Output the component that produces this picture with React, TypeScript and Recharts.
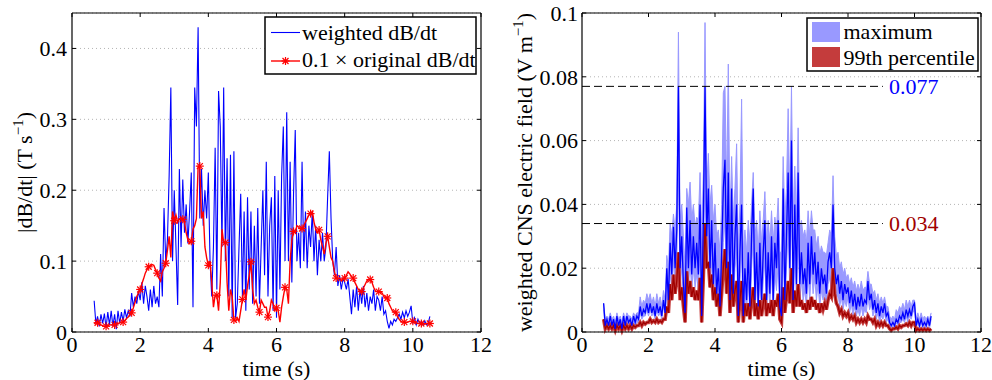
import React from 'react';
import { ComposedChart, Line, Area, XAxis, YAxis, CartesianGrid, ReferenceLine } from 'recharts';

const FONT = '"Liberation Serif", "Times New Roman", serif';
const FS = 22;

// sampling grid of the recordings (s)
const T_START = 0.65;
const T_STEP = 0.05;

// left panel: weighted dB/dt (T/s)
const weightedDBdt = [
  0.044, 0.012, 0.022, 0.008, 0.025, 0.012, 0.026,
  0.006, 0.028, 0.01, 0.03, 0.008, 0.025, 0.004, 0.03, 0.012, 0.028, 0.015, 0.032, 0.02, 0.03, 0.022, 0.055, 0.035, 0.05, 0.04, 0.058,
  0.045, 0.07, 0.04, 0.065, 0.05, 0.03, 0.06, 0.035, 0.065, 0.04, 0.05, 0.035, 0.11, 0.05, 0.175, 0.1, 0.13, 0.22, 0.345, 0.1,
  0.2, 0.12, 0.038, 0.23, 0.12, 0.215, 0.14, 0.18, 0.125, 0.17, 0.225, 0.035, 0.345, 0.29, 0.43, 0.16, 0.23, 0.15, 0.2, 0.16,
  0.225, 0.1, 0.05, 0.12, 0.26, 0.06, 0.34, 0.29, 0.12, 0.345, 0.1, 0.245, 0.05, 0.25, 0.02, 0.255, 0.02, 0.04, 0.12, 0.195,
  0.05, 0.17, 0.03, 0.19, 0.06, 0.17, 0.04, 0.15, 0.05, 0.175, 0.04, 0.12, 0.2, 0.08, 0.24, 0.05, 0.15, 0.19, 0.03, 0.22,
  0.02, 0.2, 0.06, 0.22, 0.29, 0.1, 0.31, 0.1, 0.24, 0.07, 0.195, 0.285, 0.1, 0.14, 0.09, 0.24, 0.1, 0.17, 0.09, 0.15,
  0.12, 0.17, 0.1, 0.15, 0.08, 0.13, 0.1, 0.14, 0.1, 0.12, 0.19, 0.255, 0.16, 0.1, 0.08, 0.12, 0.065, 0.08, 0.06, 0.075,
  0.07, 0.06, 0.075, 0.05, 0.025, 0.06, 0.035, 0.065, 0.03, 0.06, 0.04, 0.065, 0.035, 0.055, 0.03, 0.05, 0.04, 0.06, 0.03, 0.05,
  0.045, 0.03, 0.05, 0.025, 0.03, 0.015, 0.005, 0.015, 0.01, 0.018, 0.015, 0.02, 0.025, 0.018, 0.028, 0.02, 0.03, 0.022, 0.028, 0.037,
  0.012, 0.02, 0.01, 0.018, 0.012, 0.015, 0.01, 0.016, 0.01, 0.012, 0.022,
];

// left panel: 0.1 x original dB/dt (T/s)
const originalDBdt = [
  0.012, 0.013, 0.013, 0.012, 0.01, 0.009, 0.008,
  0.008, 0.009, 0.01, 0.01, 0.01, 0.01, 0.011, 0.012, 0.013, 0.014, 0.014, 0.016, 0.019, 0.021, 0.024, 0.027, 0.034, 0.042, 0.05, 0.055,
  0.06, 0.068, 0.075, 0.083, 0.088, 0.092, 0.093, 0.095, 0.094, 0.088, 0.083, 0.076, 0.072, 0.085, 0.09, 0.097, 0.115, 0.135, 0.105, 0.17,
  0.157, 0.165, 0.155, 0.16, 0.16, 0.159, 0.155, 0.14, 0.13, 0.125, 0.128, 0.145, 0.15, 0.16, 0.234, 0.234, 0.16, 0.17, 0.12, 0.105,
  0.094, 0.1, 0.07, 0.035, 0.052, 0.052, 0.03, 0.07, 0.145, 0.126, 0.126, 0.07, 0.03, 0.06, 0.05, 0.017, 0.015, 0.02, 0.015, 0.03,
  0.046, 0.06, 0.045, 0.065, 0.08, 0.099, 0.06, 0.04, 0.045, 0.035, 0.028, 0.045, 0.04, 0.035, 0.035, 0.021, 0.03, 0.045, 0.04, 0.03,
  0.034, 0.03, 0.014, 0.035, 0.05, 0.063, 0.06, 0.04, 0.1, 0.13, 0.142, 0.14, 0.15, 0.148, 0.145, 0.146, 0.15, 0.155, 0.16, 0.165,
  0.167, 0.17, 0.155, 0.145, 0.14, 0.144, 0.13, 0.12, 0.11, 0.125, 0.135, 0.12, 0.105, 0.1, 0.085, 0.076, 0.075, 0.076, 0.072, 0.076,
  0.076, 0.08, 0.085, 0.082, 0.078, 0.076, 0.07, 0.065, 0.06, 0.057, 0.057, 0.062, 0.067, 0.072, 0.074, 0.074, 0.07, 0.063, 0.058, 0.057,
  0.057, 0.056, 0.055, 0.05, 0.048, 0.048, 0.04, 0.035, 0.03, 0.028, 0.028, 0.022, 0.018, 0.015, 0.014, 0.014, 0.013, 0.014, 0.015, 0.015,
  0.015, 0.014, 0.013, 0.012, 0.012, 0.012, 0.012, 0.011, 0.012, 0.012, 0.012,
];

// right panel: maximum field, central line (V/m)
const eMax = [
  0.009, 0.002, 0.004, 0.002, 0.005, 0.002, 0.004,
  0.001, 0.005, 0.002, 0.004, 0.001, 0.005, 0.002, 0.005, 0.003, 0.004, 0.002, 0.005, 0.003, 0.005, 0.004, 0.008, 0.005, 0.007, 0.006, 0.009,
  0.006, 0.009, 0.006, 0.008, 0.005, 0.009, 0.006, 0.008, 0.005, 0.01, 0.006, 0.02, 0.01, 0.028, 0.018, 0.033, 0.02, 0.032, 0.077, 0.02,
  0.03, 0.015, 0.006, 0.039, 0.02, 0.035, 0.018, 0.03, 0.02, 0.028, 0.018, 0.04, 0.005, 0.035, 0.077, 0.03, 0.045, 0.02, 0.035, 0.015,
  0.028, 0.012, 0.02, 0.008, 0.025, 0.045, 0.054, 0.02, 0.05, 0.01, 0.045, 0.012, 0.03, 0.04, 0.005, 0.025, 0.04, 0.005, 0.02, 0.01,
  0.025, 0.008, 0.03, 0.045, 0.01, 0.025, 0.008, 0.028, 0.01, 0.025, 0.035, 0.01, 0.025, 0.012, 0.03, 0.01, 0.028, 0.02, 0.035, 0.008,
  0.005, 0.045, 0.01, 0.03, 0.05, 0.02, 0.06, 0.01, 0.04, 0.015, 0.05, 0.015, 0.025, 0.015, 0.02, 0.012, 0.028, 0.015, 0.03, 0.018,
  0.025, 0.015, 0.022, 0.012, 0.02, 0.015, 0.018, 0.012, 0.022, 0.025, 0.02, 0.04, 0.02, 0.015, 0.018, 0.012, 0.016, 0.01, 0.015, 0.012,
  0.014, 0.009, 0.013, 0.008, 0.012, 0.007, 0.011, 0.008, 0.012, 0.008, 0.01, 0.009, 0.016, 0.01, 0.012, 0.007, 0.01, 0.006, 0.009, 0.005,
  0.008, 0.006, 0.009, 0.005, 0.006, 0.003, 0.002, 0.003, 0.002, 0.004, 0.003, 0.005, 0.004, 0.006, 0.004, 0.007, 0.005, 0.007, 0.005, 0.008,
  0.009, 0.002, 0.004, 0.002, 0.004, 0.002, 0.003, 0.002, 0.004, 0.002, 0.005,
];

// right panel: maximum field, upper edge of shaded band
const eMaxHigh = [
  0.009, 0.004, 0.005, 0.004, 0.006, 0.004, 0.005,
  0.003, 0.006, 0.004, 0.005, 0.003, 0.006, 0.004, 0.006, 0.005, 0.005, 0.004, 0.006, 0.005, 0.006, 0.006, 0.011, 0.008, 0.01, 0.009, 0.012,
  0.01, 0.012, 0.009, 0.011, 0.008, 0.012, 0.009, 0.011, 0.008, 0.013, 0.01, 0.024, 0.02, 0.034, 0.03, 0.037, 0.032, 0.04, 0.094, 0.035,
  0.04, 0.03, 0.02, 0.045, 0.04, 0.047, 0.035, 0.04, 0.033, 0.036, 0.035, 0.05, 0.03, 0.05, 0.097, 0.045, 0.056, 0.04, 0.046, 0.035,
  0.04, 0.03, 0.032, 0.025, 0.04, 0.075, 0.077, 0.045, 0.084, 0.035, 0.055, 0.035, 0.045, 0.059, 0.025, 0.04, 0.073, 0.025, 0.032, 0.025,
  0.035, 0.028, 0.04, 0.05, 0.03, 0.035, 0.025, 0.038, 0.028, 0.035, 0.044, 0.028, 0.035, 0.028, 0.038, 0.028, 0.036, 0.032, 0.042, 0.025,
  0.025, 0.055, 0.035, 0.045, 0.07, 0.04, 0.077, 0.035, 0.052, 0.035, 0.064, 0.032, 0.035, 0.03, 0.032, 0.028, 0.038, 0.03, 0.038, 0.032,
  0.032, 0.027, 0.03, 0.024, 0.027, 0.025, 0.025, 0.024, 0.028, 0.032, 0.03, 0.049, 0.03, 0.024, 0.025, 0.02, 0.022, 0.018, 0.02, 0.017,
  0.018, 0.015, 0.017, 0.014, 0.016, 0.013, 0.015, 0.013, 0.016, 0.013, 0.014, 0.014, 0.019, 0.015, 0.015, 0.012, 0.013, 0.01, 0.012, 0.009,
  0.011, 0.009, 0.011, 0.008, 0.008, 0.005, 0.004, 0.005, 0.004, 0.007, 0.006, 0.008, 0.007, 0.009, 0.007, 0.01, 0.008, 0.01, 0.008, 0.01,
  0.01, 0.004, 0.006, 0.004, 0.006, 0.004, 0.005, 0.004, 0.005, 0.004, 0.006,
];

// right panel: maximum field, lower edge of shaded band
const eMaxLow = [
  0.007, 0.001, 0.003, 0.001, 0.003, 0.001, 0.003,
  0.0005, 0.003, 0.001, 0.003, 0.0005, 0.003, 0.001, 0.003, 0.002, 0.003, 0.001, 0.003, 0.002, 0.003, 0.003, 0.006, 0.004, 0.005, 0.005, 0.007,
  0.005, 0.007, 0.005, 0.006, 0.004, 0.007, 0.005, 0.006, 0.004, 0.008, 0.005, 0.012, 0.008, 0.018, 0.014, 0.022, 0.015, 0.022, 0.05, 0.015,
  0.02, 0.01, 0.004, 0.025, 0.014, 0.022, 0.013, 0.02, 0.014, 0.018, 0.013, 0.025, 0.004, 0.022, 0.05, 0.02, 0.03, 0.014, 0.022, 0.01,
  0.018, 0.008, 0.013, 0.005, 0.016, 0.028, 0.035, 0.013, 0.032, 0.006, 0.028, 0.008, 0.02, 0.025, 0.003, 0.016, 0.025, 0.003, 0.013, 0.006,
  0.016, 0.005, 0.02, 0.03, 0.006, 0.016, 0.005, 0.018, 0.006, 0.016, 0.022, 0.006, 0.016, 0.008, 0.02, 0.006, 0.018, 0.013, 0.022, 0.005,
  0.003, 0.03, 0.006, 0.02, 0.032, 0.013, 0.04, 0.006, 0.026, 0.01, 0.032, 0.01, 0.016, 0.01, 0.013, 0.008, 0.018, 0.01, 0.02, 0.012,
  0.017, 0.01, 0.015, 0.008, 0.013, 0.01, 0.012, 0.008, 0.015, 0.017, 0.013, 0.028, 0.013, 0.01, 0.012, 0.008, 0.011, 0.007, 0.01, 0.008,
  0.011, 0.006, 0.009, 0.005, 0.008, 0.005, 0.007, 0.005, 0.008, 0.005, 0.007, 0.006, 0.011, 0.007, 0.009, 0.005, 0.007, 0.004, 0.006, 0.003,
  0.005, 0.004, 0.006, 0.003, 0.004, 0.002, 0.001, 0.002, 0.001, 0.003, 0.002, 0.003, 0.003, 0.004, 0.003, 0.005, 0.003, 0.005, 0.004, 0.006,
  0.007, 0.001, 0.003, 0.001, 0.003, 0.001, 0.002, 0.001, 0.003, 0.001, 0.004,
];

// right panel: 99th percentile field (V/m)
const e99 = [
  0.004, 0.001, 0.002, 0.001, 0.002, 0.001, 0.002,
  0.0005, 0.002, 0.001, 0.002, 0.0005, 0.002, 0.001, 0.002, 0.001, 0.002, 0.001, 0.002, 0.0015, 0.002, 0.002, 0.003, 0.002, 0.003, 0.0025, 0.003,
  0.003, 0.004, 0.003, 0.0035, 0.003, 0.004, 0.003, 0.0035, 0.003, 0.004, 0.004, 0.008, 0.006, 0.015, 0.01, 0.018, 0.012, 0.016, 0.025, 0.01,
  0.014, 0.008, 0.003, 0.019, 0.012, 0.016, 0.011, 0.014, 0.01, 0.013, 0.01, 0.017, 0.003, 0.017, 0.034, 0.02, 0.022, 0.014, 0.018, 0.01,
  0.014, 0.008, 0.012, 0.005, 0.012, 0.02, 0.026, 0.012, 0.022, 0.006, 0.018, 0.008, 0.013, 0.016, 0.003, 0.01, 0.016, 0.003, 0.009, 0.005,
  0.009, 0.004, 0.01, 0.014, 0.005, 0.009, 0.004, 0.01, 0.005, 0.009, 0.012, 0.005, 0.009, 0.006, 0.01, 0.005, 0.01, 0.008, 0.012, 0.004,
  0.003, 0.014, 0.006, 0.011, 0.016, 0.009, 0.02, 0.006, 0.013, 0.008, 0.015, 0.008, 0.01, 0.007, 0.009, 0.006, 0.01, 0.007, 0.011, 0.008,
  0.01, 0.007, 0.009, 0.006, 0.009, 0.007, 0.009, 0.007, 0.01, 0.012, 0.011, 0.02, 0.012, 0.009, 0.008, 0.006, 0.007, 0.005, 0.006, 0.005,
  0.006, 0.004, 0.005, 0.004, 0.005, 0.003, 0.004, 0.003, 0.004, 0.003, 0.004, 0.003, 0.005, 0.004, 0.004, 0.003, 0.004, 0.002, 0.003, 0.002,
  0.003, 0.002, 0.003, 0.002, 0.002, 0.001, 0.0005, 0.001, 0.001, 0.0015, 0.001, 0.002, 0.0015, 0.002, 0.002, 0.0025, 0.002, 0.003, 0.002, 0.003,
  0.003, 0.0005, 0.001, 0.0005, 0.001, 0.0005, 0.001, 0.0005, 0.001, 0.0005, 0.001,
];

const xTicks = [0, 2, 4, 6, 8, 10, 12];
const yTicksLeft = [0, 0.1, 0.2, 0.3, 0.4];
const yTicksRight = [0, 0.02, 0.04, 0.06, 0.08, 0.1];
const X_DOMAIN: [number, number] = [0, 12];
const Y_LEFT_MAX = 0.45;
const Y_RIGHT_MAX = 0.1;
const REF_MAX = 0.077;
const REF_99 = 0.034;
const REF_END = 9.05;

const data = weightedDBdt.map((v, i) => ({
  t: Math.round((T_START + T_STEP * i) * 100) / 100,
  wdb: v,
  odb: originalDBdt[i],
  band: [eMaxLow[i], eMaxHigh[i]],
  emax: eMax[i],
  e99: e99[i],
}));

const Star = ({ cx, cy, c }: any) => (
  <g stroke={c} strokeWidth={1.2}>
    <line x1={cx - 4} y1={cy} x2={cx + 4} y2={cy} />
    <line x1={cx} y1={cy - 4} x2={cx} y2={cy + 4} />
    <line x1={cx - 3} y1={cy - 3} x2={cx + 3} y2={cy + 3} />
    <line x1={cx - 3} y1={cy + 3} x2={cx + 3} y2={cy - 3} />
  </g>
);

const redDot = (props: any) => {
  const { cx, cy, index } = props;
  if (index % 5 !== 2 || cx == null || cy == null) return <g key={`d${index}`} />;
  return (
    <g key={`d${index}`}>
      <Star cx={cx} cy={cy} c="#ff0000" />
    </g>
  );
};

const tickStyle = { fill: '#000', fontSize: FS, fontFamily: FONT };

const XLabel = (props: any) => {
  const vb = props.viewBox || { x: 0, y: 0, width: 0, height: 0 };
  return (
    <text x={vb.x + vb.width / 2} y={vb.y + 44} textAnchor="middle" fontSize={FS} fontFamily={FONT} fill="#000">
      time (s)
    </text>
  );
};

const makeYLabel = (main: string, dx: number) => (props: any) => {
  const vb = props.viewBox || { x: 0, y: 0, width: 0, height: 0 };
  const cx = vb.x + dx;
  const cy = vb.y + vb.height / 2;
  return (
    <text transform={`translate(${cx},${cy}) rotate(-90)`} textAnchor="middle" fontSize={FS} fontFamily={FONT} fill="#000">
      {main}
      <tspan dy={-9} fontSize={15}>−1</tspan>
      <tspan dy={9}>)</tspan>
    </text>
  );
};

function boxAndTicks(yMax: number, yTicks: number[], plotW: number, plotH: number, prefix: string) {
  const tx = (4 / plotH) * yMax;
  const ty = (4 / plotW) * (X_DOMAIN[1] - X_DOMAIN[0]);
  const out: any[] = [];
  out.push(<ReferenceLine key={`${prefix}top`} y={yMax} stroke="#000" strokeWidth={1.2} />);
  out.push(<ReferenceLine key={`${prefix}right`} x={X_DOMAIN[1]} stroke="#000" strokeWidth={1.2} />);
  xTicks.forEach((t) => {
    out.push(<ReferenceLine key={`${prefix}xb${t}`} segment={[{ x: t, y: 0 }, { x: t, y: tx }]} stroke="#000" strokeWidth={1} />);
    out.push(<ReferenceLine key={`${prefix}xt${t}`} segment={[{ x: t, y: yMax }, { x: t, y: yMax - tx }]} stroke="#000" strokeWidth={1} />);
  });
  yTicks.forEach((v) => {
    out.push(<ReferenceLine key={`${prefix}yl${v}`} segment={[{ x: X_DOMAIN[0], y: v }, { x: X_DOMAIN[0] + ty, y: v }]} stroke="#000" strokeWidth={1} />);
    out.push(<ReferenceLine key={`${prefix}yr${v}`} segment={[{ x: X_DOMAIN[1], y: v }, { x: X_DOMAIN[1] - ty, y: v }]} stroke="#000" strokeWidth={1} />);
  });
  return out;
}

const LeftChart = () => (
  <ComposedChart width={496} height={380} data={data} margin={{ top: 13, right: 15, bottom: 0, left: 0 }}>
    <CartesianGrid horizontal vertical={false} stroke="#b4b4b4" strokeDasharray="1 3" />
    <XAxis
      dataKey="t"
      type="number"
      domain={X_DOMAIN}
      ticks={xTicks}
      height={48}
      tick={tickStyle}
      tickLine={false}
      tickSize={0}
      tickMargin={4}
      axisLine={{ stroke: '#000', strokeWidth: 1.2 }}
      label={<XLabel />}
    />
    <YAxis
      type="number"
      domain={[0, Y_LEFT_MAX]}
      ticks={yTicksLeft}
      width={72}
      tick={tickStyle}
      tickLine={false}
      tickSize={0}
      tickMargin={5}
      axisLine={{ stroke: '#000', strokeWidth: 1.2 }}
      label={makeYLabel('|dB/dt| (T s', 32)}
    />
    {boxAndTicks(Y_LEFT_MAX, yTicksLeft, 409, 319, 'l')}
    <Line dataKey="wdb" type="linear" stroke="#0000ff" strokeWidth={1.1} dot={false} isAnimationActive={false} />
    <Line dataKey="odb" type="linear" stroke="#ff0000" strokeWidth={1.4} dot={redDot} activeDot={false} isAnimationActive={false} />
  </ComposedChart>
);

const RightChart = () => (
  <ComposedChart width={496} height={380} data={data} margin={{ top: 13, right: 11, bottom: 0, left: 0 }}>
    <CartesianGrid horizontal vertical={false} stroke="#b4b4b4" strokeDasharray="1 3" />
    <XAxis
      dataKey="t"
      type="number"
      domain={X_DOMAIN}
      ticks={xTicks}
      height={48}
      tick={tickStyle}
      tickLine={false}
      tickSize={0}
      tickMargin={4}
      axisLine={{ stroke: '#000', strokeWidth: 1.2 }}
      label={<XLabel />}
    />
    <YAxis
      type="number"
      domain={[0, Y_RIGHT_MAX]}
      ticks={yTicksRight}
      width={86}
      tick={tickStyle}
      tickLine={false}
      tickSize={0}
      tickMargin={4}
      axisLine={{ stroke: '#000', strokeWidth: 1.2 }}
      label={makeYLabel('weighted CNS electric field (V m', 36)}
    />
    <Area dataKey="band" type="linear" stroke="#9999ff" strokeWidth={1} fill="#9999ff" fillOpacity={1} isAnimationActive={false} />
    <Line dataKey="e99" type="linear" stroke="#c43c3c" strokeWidth={3.5} dot={false} activeDot={false} isAnimationActive={false} />
    <Line dataKey={(d: any) => d.e99} name="p99" type="linear" stroke="#a00000" strokeWidth={1.3} dot={false} activeDot={false} isAnimationActive={false} />
    <Line dataKey="emax" type="linear" stroke="#0000ff" strokeWidth={1.3} dot={false} activeDot={false} isAnimationActive={false} />
    <ReferenceLine
      segment={[{ x: X_DOMAIN[0], y: REF_MAX }, { x: REF_END, y: REF_MAX }]}
      stroke="#000"
      strokeWidth={1}
      strokeDasharray="8 4"
      label={{ value: '0.077', position: 'right', offset: 6, fill: '#0000ff', fontSize: FS, fontFamily: FONT }}
    />
    <ReferenceLine
      segment={[{ x: X_DOMAIN[0], y: REF_99 }, { x: REF_END, y: REF_99 }]}
      stroke="#000"
      strokeWidth={1}
      strokeDasharray="8 4"
      label={{ value: '0.034', position: 'right', offset: 6, fill: '#a00000', fontSize: FS, fontFamily: FONT }}
    />
    {boxAndTicks(Y_RIGHT_MAX, yTicksRight, 399, 319, 'r')}
  </ComposedChart>
);

const Legends = () => (
  <svg width={992} height={380} style={{ position: 'absolute', left: 0, top: 0, pointerEvents: 'none' }}>
    <g fontFamily={FONT} fontSize={FS} fill="#000">
      <rect x={265} y={17} width={211} height={57} fill="#fff" stroke="#000" strokeWidth={1.5} />
      <line x1={271} y1={32.5} x2={300} y2={32.5} stroke="#0000ff" strokeWidth={1.1} />
      <text x={302} y={39.5}>weighted dB/dt</text>
      <line x1={271} y1={61} x2={300} y2={61} stroke="#ff0000" strokeWidth={1.4} />
      <Star cx={285.5} cy={61} c="#ff0000" />
      <text x={302} y={66.5}>0.1 × original dB/dt</text>

      <rect x={807} y={18} width={171} height={53} fill="#fff" stroke="#000" strokeWidth={1.5} />
      <rect x={812} y={22} width={28} height={20} fill="#9999ff" />
      <text x={843.5} y={39}>maximum</text>
      <rect x={812} y={47} width={28} height={20} fill="#c43c3c" />
      <text x={843.5} y={65}>99th percentile</text>
    </g>
  </svg>
);

export default function App() {
  return (
    <div style={{ position: 'absolute', left: 0, top: 0, width: 992, height: 380, background: '#fff' }}>
      <div style={{ position: 'absolute', left: 0, top: 0 }}>
        <LeftChart />
      </div>
      <div style={{ position: 'absolute', left: 496, top: 0 }}>
        <RightChart />
      </div>
      <Legends />
    </div>
  );
}
